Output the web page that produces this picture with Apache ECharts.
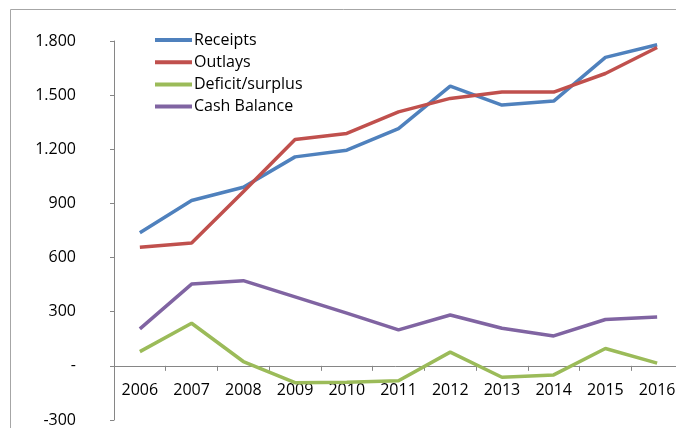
<!DOCTYPE html>
<html>
<head>
<meta charset="utf-8">
<script src="https://cdn.jsdelivr.net/npm/echarts@6/dist/echarts.min.js"></script>
<style>
  html, body { margin: 0; padding: 0; background: #fff; }
  #chart { width: 676px; height: 428px; }
</style>
</head>
<body>
<div id="chart"></div>
<script>
// Budget series by year
const years = ['2006', '2007', '2008', '2009', '2010', '2011', '2012', '2013', '2014', '2015', '2016'];
const receipts = [737, 916, 990, 1158, 1195, 1315, 1550, 1445, 1467, 1709, 1779];
const outlays = [657, 681, 965, 1254, 1288, 1407, 1482, 1517, 1517, 1620, 1764];
const deficitSurplus = [79, 236, 24, -93, -91, -83, 76, -63, -50, 96, 15];
const cashBalance = [205, 453, 472, 382, 292, 199, 282, 208, 166, 257, 271];
const seriesNames = ['Receipts', 'Outlays', 'Deficit/surplus', 'Cash Balance'];
const yMin = -300, yMax = 1800, yStep = 300;

const FONT = "'Open Sans', 'DejaVu Sans', sans-serif";
const AXIS_GRAY = '#868686';
const colors = ['#4F81BD', '#C0504D', '#9BBB59', '#8064A2'];

// Plot area (px)
const W = 676, H = 428;
const GRID = { left: 114, right: -7, top: 41, bottom: 8 };
const plotH = H - GRID.top - GRID.bottom;
// the category axis sits on the zero line, lifted from the plot bottom
const zeroOffset = -plotH * (0 - yMin) / (yMax - yMin);

// "1.800" style thousands separator, zero shown as a dash
function fmtValue(v) {
  if (v === 0) return '-';
  const s = Math.abs(v).toString().replace(/\B(?=(\d{3})+(?!\d))/g, '.');
  return (v < 0 ? '-' : '') + s;
}

const chart = echarts.init(document.getElementById('chart'), null, { renderer: 'canvas' });

function lineSeries(name, data, color) {
  return {
    name: name,
    type: 'line',
    data: data,
    symbol: 'none',
    smooth: false,
    lineStyle: { color: color, width: 3.5 },
    itemStyle: { color: color },
    emphasis: { disabled: true },
    animation: false
  };
}

chart.setOption({
  animation: false,
  color: colors,
  graphic: [{
    type: 'rect',
    shape: { x: 10.5, y: 9.5, width: 700, height: 450 },
    style: { fill: 'none', stroke: '#A6A6A6', lineWidth: 1 },
    silent: true,
    z: -10
  }],
  grid: {
    left: GRID.left, right: GRID.right, top: GRID.top, bottom: GRID.bottom,
    containLabel: false,
    outerBoundsMode: 'none'
  },
  legend: {
    orient: 'vertical',
    left: 155,
    top: 29,
    padding: 0,
    itemWidth: 37,
    itemHeight: 4,
    itemGap: 0.2,
    icon: 'rect',
    data: seriesNames,
    textStyle: { fontFamily: FONT, fontSize: 16, color: '#000', lineHeight: 22, padding: [0, 0, 0, -3] },
    selectedMode: false
  },
  xAxis: {
    type: 'category',
    data: years,
    boundaryGap: true,
    offset: zeroOffset,
    axisLine: { onZero: false, lineStyle: { color: AXIS_GRAY, width: 1 } },
    axisTick: { show: true, length: 5, inside: false, alignWithLabel: false, lineStyle: { color: AXIS_GRAY } },
    axisLabel: { fontFamily: FONT, fontSize: 16, color: '#000', margin: 17 },
    splitLine: { show: false }
  },
  yAxis: {
    type: 'value',
    min: yMin,
    max: yMax,
    interval: yStep,
    axisLine: { show: true, lineStyle: { color: AXIS_GRAY, width: 1 } },
    axisTick: { show: true, length: 4, lineStyle: { color: AXIS_GRAY } },
    axisLabel: { fontFamily: FONT, fontSize: 16, color: '#000', margin: 38, formatter: fmtValue },
    splitLine: { show: false }
  },
  series: [
    lineSeries(seriesNames[0], receipts, colors[0]),
    lineSeries(seriesNames[1], outlays, colors[1]),
    lineSeries(seriesNames[2], deficitSurplus, colors[2]),
    lineSeries(seriesNames[3], cashBalance, colors[3])
  ]
});
</script>
</body>
</html>
